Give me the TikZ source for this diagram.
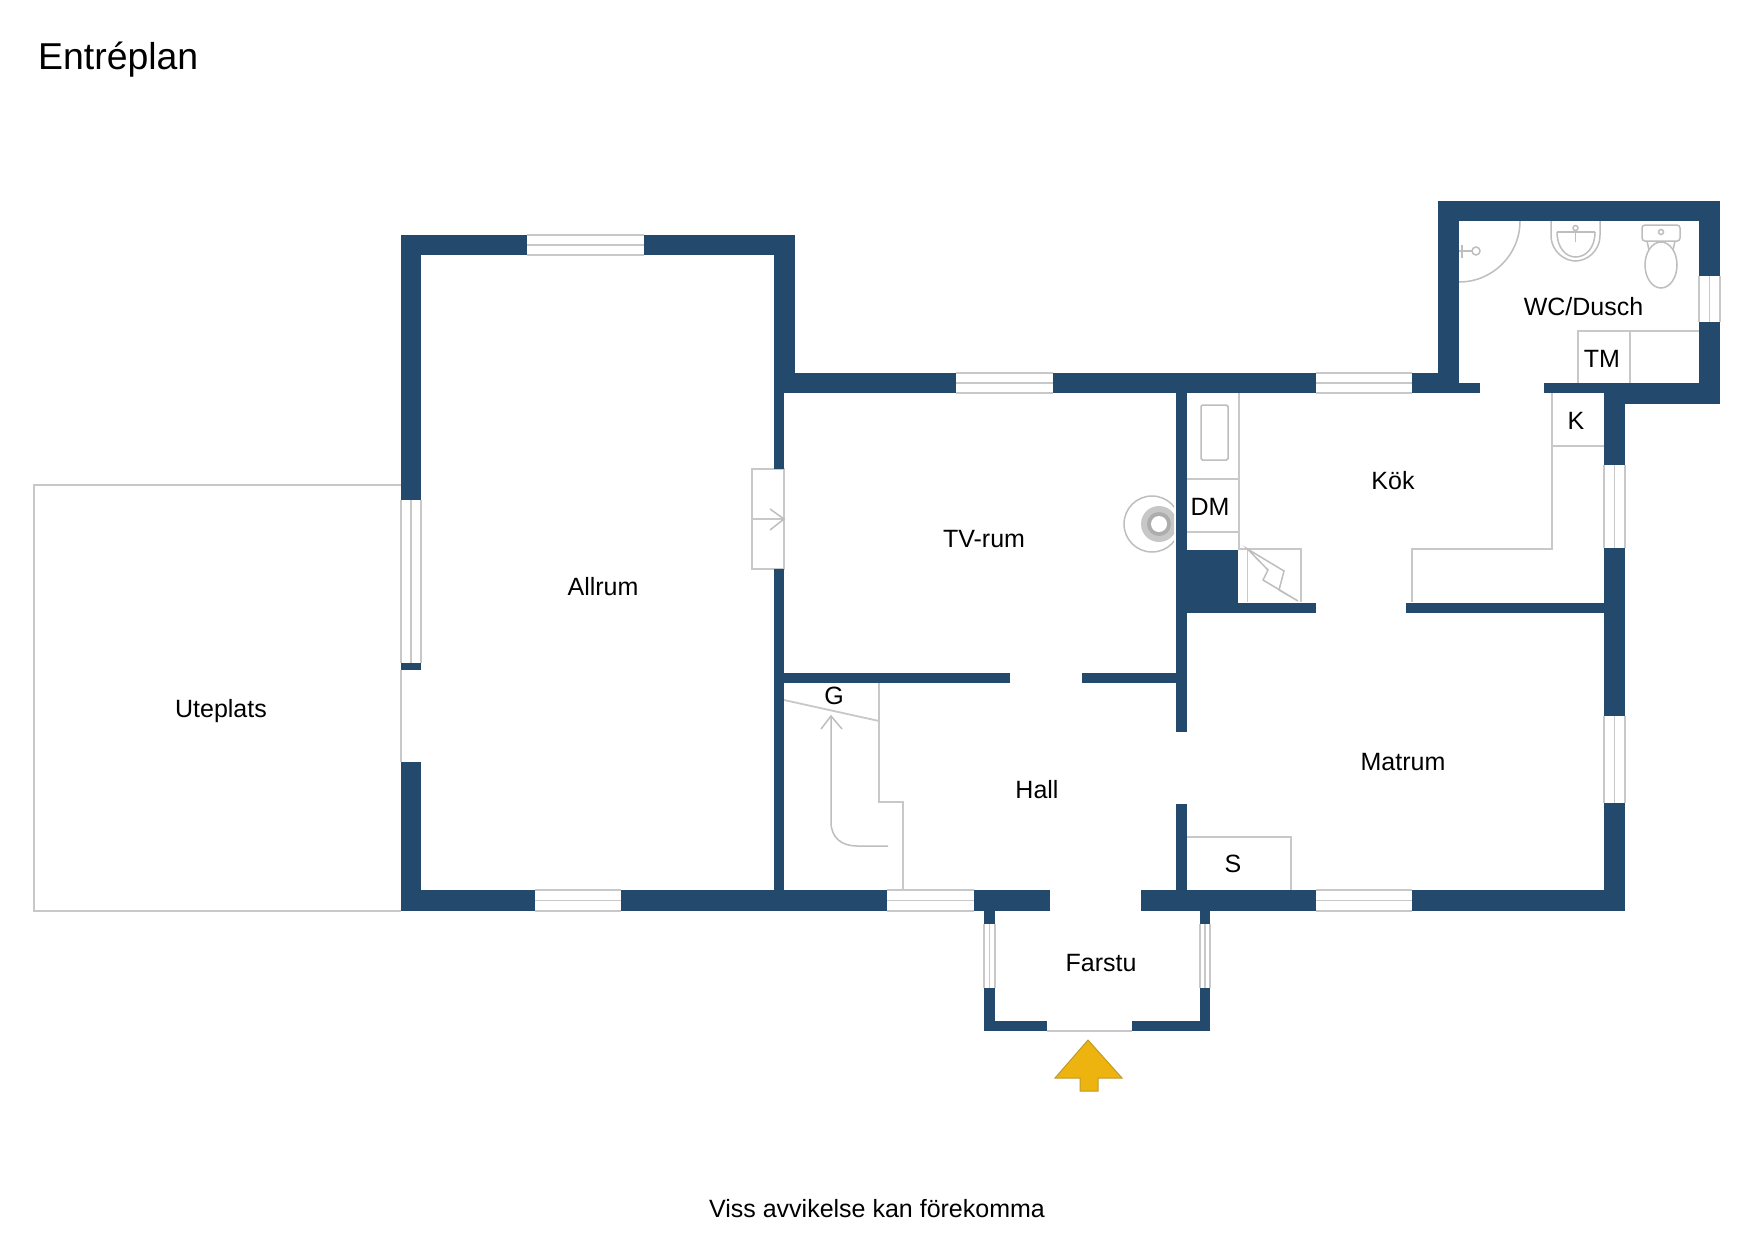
\documentclass[tikz,border=0pt]{standalone}
\usepackage{fontspec}
\setmainfont{Liberation Sans}
\definecolor{wallblue}{HTML}{234A6C}
\definecolor{linegray}{HTML}{C8C8C8}
\definecolor{fixgray}{HTML}{BEBEBE}
\definecolor{gold}{HTML}{EDB30F}
\definecolor{golddark}{HTML}{BF9A2B}
\newcommand{\hwin}[4]{% x1 x2 y1 y2
  \fill[white] (#1,#3) rectangle (#2,#4);
  \draw[thin line] (#1,#3) -- (#2,#3);
  \draw[thin line] (#1,#4) -- (#2,#4);
  \draw[thin line] (#1,{(#3+#4)/2}) -- (#2,{(#3+#4)/2});
}
\newcommand{\vwin}[4]{% x1 x2 y1 y2
  \fill[white] (#1,#3) rectangle (#2,#4);
  \draw[thin line] (#1,#3) -- (#1,#4);
  \draw[thin line] (#2,#3) -- (#2,#4);
  \draw[thin line] ({(#1+#2)/2},#3) -- ({(#1+#2)/2},#4);
}
\begin{document}
\begin{tikzpicture}[x=1pt,y=-1pt,
  wall/.style={fill=wallblue},
  thin line/.style={draw=linegray,line width=1.8pt},
  fixture/.style={draw=fixgray,line width=1.5pt},
  room/.style={anchor=base,inner sep=0pt,font=\fontsize{25}{28}\selectfont,text=black},
  headline/.style={anchor=base west,inner sep=0pt,font=\fontsize{37.4}{40}\selectfont,text=black}]
\useasboundingbox[fill=white] (0,0) rectangle (1754,1240);

% outdoor terrace and thin openings
\draw[thin line] (401,485) -- (34,485) -- (34,911) -- (401,911);
\draw[thin line] (401,670) -- (401,762);
\draw[thin line] (1047,1031) -- (1132,1031);

% windows
\hwin{527}{644}{235}{255}
\hwin{956}{1053}{373}{393}
\hwin{1316}{1412}{373}{393}
\hwin{535}{621}{890}{911}
\hwin{887}{974}{890}{911}
\hwin{1316}{1412}{890}{911}
\vwin{401}{421}{500}{663}
\vwin{1699}{1720}{276}{322}
\vwin{1604}{1625}{465}{548}
\vwin{1604}{1625}{716}{803}
\vwin{984}{995}{924}{988}
\vwin{1200}{1210}{924}{988}

% fixed interiors
\draw[thin line] (752,519) -- (784,519);
\draw[thin line] (784,469) -- (752,469) -- (752,569) -- (784,569) -- cycle;
\draw[fixture] (770,509) -- (784,519) -- (770,530);

\draw[thin line] (879,683) -- (879,802) -- (903,802) -- (903,890);
\draw[thin line] (784,700) -- (879,721);
\draw[fixture] (831,716) -- (831,822) .. controls (831,838) and (842,846) .. (857,846) -- (888,846);
\draw[fixture] (821,729) -- (831,716) -- (842,729);

\draw[thin line] (1187,837) -- (1291,837) -- (1291,890);

\draw[thin line] (1239,393) -- (1239,549);
\draw[thin line] (1187,479) -- (1239,479);
\draw[thin line] (1187,532) -- (1239,532);
\draw[fixture,rounded corners=1.5pt] (1201,405) rectangle (1228,460);
\draw[thin line] (1238,549) -- (1301,549) -- (1301,602);
\draw[thin line] (1247.5,549) -- (1247.5,602);
\draw[fixture] (1247.5,549) -- (1284,571) -- (1279,590) -- (1298,601) -- (1263,580) -- (1268,570) -- cycle;

\draw[thin line] (1552,393) -- (1552,549) -- (1412,549) -- (1412,602);
\draw[thin line] (1552,446) -- (1604,446);

\draw[thin line] (1578,383) -- (1578,331) -- (1699,331);
\draw[thin line] (1630,331) -- (1630,383);

% stove
\begin{scope}
  \clip (1110,480) rectangle (1174,570);
  \draw[fixture] (1152,524) circle[radius=28];
  \fill[black!22] (1159,524) circle[radius=18];
  \fill[black!32] (1159,524) circle[radius=12];
  \fill[white] (1159,524) circle[radius=8];
\end{scope}

% shower
\draw[fixture] (1520,221) arc[start angle=0,end angle=90,radius=61];
\draw[fixture] (1459,251) -- (1472,251);
\draw[fixture] (1476,251) circle[radius=4];
\draw[fixture] (1462,245) -- (1462,258);
% sink
\draw[fixture] (1551,221) -- (1551,235) .. controls (1551,252) and (1565,261) .. (1575.5,261) .. controls (1586,261) and (1600,252) .. (1600,235) -- (1600,221);
\draw[fixture] (1557,232) .. controls (1557,248) and (1566,257) .. (1575.5,257) .. controls (1586,257) and (1595,248) .. (1595,232);
\draw[fixture] (1557,232) -- (1595,232);
\draw[fixture] (1575.5,231) -- (1575.5,242);
\draw[fixture] (1575.5,228) circle[radius=2.5];
% toilet
\draw[fixture,rounded corners=3pt] (1642,225) rectangle (1680,241);
\draw[fixture] (1661,232) circle[radius=2.5];
\draw[fixture] (1647,241) -- (1649,250);
\draw[fixture] (1675,241) -- (1673,250);
\draw[fixture] (1661,265) ellipse[x radius=16,y radius=23];

% walls
\fill[wall] (401,235) rectangle (527,255);
\fill[wall] (644,235) rectangle (795,255);
\fill[wall] (401,235) rectangle (421,500);
\fill[wall] (401,663) rectangle (421,670);
\fill[wall] (401,762) rectangle (421,911);
\fill[wall] (401,890) rectangle (535,911);
\fill[wall] (621,890) rectangle (887,911);
\fill[wall] (974,890) rectangle (1050,911);
\fill[wall] (1141,890) rectangle (1316,911);
\fill[wall] (1412,890) rectangle (1625,911);
\fill[wall] (774,235) rectangle (795,373);
\fill[wall] (774,373) rectangle (784,469);
\fill[wall] (774,569) rectangle (784,890);
\fill[wall] (774,373) rectangle (956,393);
\fill[wall] (1053,373) rectangle (1316,393);
\fill[wall] (1412,373) rectangle (1459,393);
\fill[wall] (1438,201) rectangle (1459,393);
\fill[wall] (1438,201) rectangle (1720,221);
\fill[wall] (1699,201) rectangle (1720,276);
\fill[wall] (1699,322) rectangle (1720,404);
\fill[wall] (1459,383) rectangle (1480,393);
\fill[wall] (1544,383) rectangle (1720,393);
\fill[wall] (1604,393) rectangle (1720,404);
\fill[wall] (1604,383) rectangle (1625,465);
\fill[wall] (1604,548) rectangle (1625,716);
\fill[wall] (1604,803) rectangle (1625,911);
\fill[wall] (1176,393) rectangle (1187,732);
\fill[wall] (1176,804) rectangle (1187,890);
\fill[wall] (784,673) rectangle (1010,683);
\fill[wall] (1082,673) rectangle (1176,683);
\fill[wall] (1176,550) rectangle (1238,613);
\fill[wall] (1238,603) rectangle (1316,613);
\fill[wall] (1406,603) rectangle (1604,613);
\fill[wall] (984,911) rectangle (995,924);
\fill[wall] (984,988) rectangle (995,1031);
\fill[wall] (984,1021) rectangle (1047,1031);
\fill[wall] (1200,911) rectangle (1210,924);
\fill[wall] (1200,988) rectangle (1210,1031);
\fill[wall] (1132,1021) rectangle (1210,1031);

% entrance arrow
\draw[fill=gold,draw=golddark,line width=1pt] (1088,1040) -- (1122,1078) -- (1098,1078) -- (1098,1091) -- (1080,1091) -- (1080,1078) -- (1055,1078) -- cycle;

% labels
\node[headline] (title) at (38,69) {Entréplan};
\node[room] (uteplats) at (221,717) {Uteplats};
\node[room] (allrum) at (603,595) {Allrum};
\node[room] (tvrum) at (984,547) {TV-rum};
\node[room] (kok) at (1393,489) {Kök};
\node[room] (dm) at (1210,515) {DM};
\node[room] (k) at (1576,429) {K};
\node[room] (wc) at (1583.5,315) {WC/Dusch};
\node[room] (tm) at (1602,367) {TM};
\node[room] (g) at (834,704) {G};
\node[room] (hall) at (1037,798) {Hall};
\node[room] (matrum) at (1403,770) {Matrum};
\node[room] (s) at (1233,872) {S};
\node[room] (farstu) at (1101,971) {Farstu};
\node[room] (note) at (877,1217) {Viss avvikelse kan förekomma};
\end{tikzpicture}
\end{document}
